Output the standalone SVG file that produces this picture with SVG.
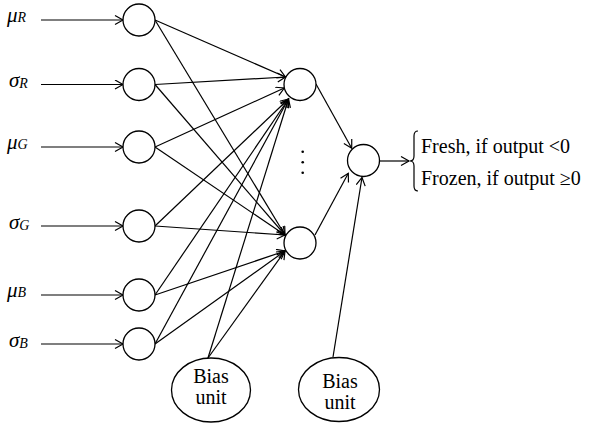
<svg xmlns="http://www.w3.org/2000/svg" width="596" height="423" viewBox="0 0 596 423">
<style>
.n{fill:#fff;stroke:#000;stroke-width:1.3}
.c line{stroke:#000;stroke-width:1.2;marker-end:url(#ah)}
.t{font-family:"Liberation Serif","Times New Roman",serif;font-size:20px;fill:#000}
.g{font-family:"Liberation Serif","Times New Roman",serif;font-size:21px;font-style:italic;fill:#000}
.s{font-size:14px}
</style>
<defs>
<marker id="ah" markerUnits="userSpaceOnUse" markerWidth="12" markerHeight="12" refX="9" refY="5" orient="auto">
<path d="M1,0.5 L9,5 L1,9.5" fill="none" stroke="#000" stroke-width="1.2"/>
</marker>
</defs>
<rect width="596" height="423" fill="#fff"/>
<g class="c" id="connectors">
<line x1="41" y1="20" x2="123" y2="20"/>
<line x1="41" y1="84.5" x2="123" y2="84.5"/>
<line x1="41" y1="147" x2="123" y2="147"/>
<line x1="41" y1="226" x2="123" y2="226"/>
<line x1="41" y1="295" x2="123" y2="295"/>
<line x1="41" y1="344" x2="123" y2="344"/>
<line x1="155" y1="20" x2="285.5" y2="77"/>
<line x1="155" y1="20" x2="285" y2="235"/>
<line x1="155" y1="84.5" x2="285.5" y2="77"/>
<line x1="155" y1="84.5" x2="285" y2="235"/>
<line x1="155" y1="147" x2="284.3" y2="88"/>
<line x1="155" y1="147" x2="285" y2="235"/>
<line x1="155" y1="226" x2="288.5" y2="99"/>
<line x1="155" y1="226" x2="285" y2="235"/>
<line x1="155" y1="295" x2="288.5" y2="99"/>
<line x1="155" y1="295" x2="285" y2="251"/>
<line x1="155" y1="344" x2="288.5" y2="99"/>
<line x1="155" y1="344" x2="285" y2="251"/>
<line x1="208" y1="358" x2="288.5" y2="99"/>
<line x1="208" y1="358" x2="285" y2="251"/>
<line x1="316" y1="84" x2="351.7" y2="148.3"/>
<line x1="315" y1="235" x2="348.3" y2="173.3"/>
<line x1="333" y1="357" x2="362" y2="177.5"/>
<line x1="380" y1="161" x2="409" y2="161"/>
</g>
<g id="in_muR"><circle class="n" cx="139" cy="20" r="16"/><text class="g" x="7" y="22">μ<tspan class="s">R</tspan></text></g>
<g id="in_sigR"><circle class="n" cx="139" cy="84.5" r="16"/><text class="g" x="9" y="87">σ<tspan class="s" dy="1">R</tspan></text></g>
<g id="in_muG"><circle class="n" cx="139" cy="147" r="16"/><text class="g" x="7" y="149">μ<tspan class="s">G</tspan></text></g>
<g id="in_sigG"><circle class="n" cx="139" cy="226" r="16"/><text class="g" x="9" y="228.5">σ<tspan class="s" dy="1">G</tspan></text></g>
<g id="in_muB"><circle class="n" cx="139" cy="295" r="16"/><text class="g" x="7" y="297">μ<tspan class="s">B</tspan></text></g>
<g id="in_sigB"><circle class="n" cx="139" cy="344" r="16"/><text class="g" x="9" y="346.5">σ<tspan class="s" dy="1">B</tspan></text></g>
<g id="hidden1"><circle class="n" cx="300" cy="84.5" r="16"/></g>
<g id="hidden2"><circle class="n" cx="300" cy="243" r="16"/></g>
<g id="dots"><circle cx="302.7" cy="151.7" r="1.3"/><circle cx="302.7" cy="162.3" r="1.3"/><circle cx="302.7" cy="172.7" r="1.3"/></g>
<g id="output"><circle class="n" cx="363.5" cy="160.5" r="16"/></g>
<g id="bias1"><ellipse class="n" cx="211" cy="390" rx="39.5" ry="32"/><text class="t" x="211" y="383" text-anchor="middle">Bias</text><text class="t" x="211" y="404" text-anchor="middle">unit</text></g>
<g id="bias2"><ellipse class="n" cx="339" cy="389.5" rx="40.5" ry="32"/><text class="t" x="340" y="388" text-anchor="middle">Bias</text><text class="t" x="340" y="409" text-anchor="middle">unit</text></g>
<g id="result">
<path d="M418,131 Q414,131 414,136 L414,156 Q414,161 410,161 Q414,161 414,166 L414,186 Q414,191 418,191" fill="none" stroke="#000" stroke-width="1.2"/>
<text class="t" x="421" y="153">Fresh, if output &lt;0</text>
<text class="t" x="421" y="185">Frozen, if output ≥0</text>
</g>
</svg>
